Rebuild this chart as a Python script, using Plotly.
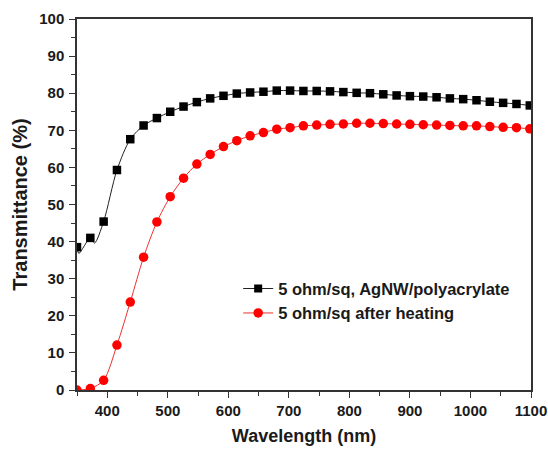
import plotly.graph_objects as go

wavelength = [350 + 22 * k for k in range(35)]
black_T = [38.5, 41.0, 45.4, 59.3, 67.6, 71.3, 73.3, 75.0, 76.4, 77.6, 78.6, 79.3, 79.9, 80.2, 80.4,
           80.7, 80.7, 80.6, 80.6, 80.5, 80.3, 80.1, 80.0, 79.7, 79.4, 79.2, 79.1, 78.9, 78.6, 78.4,
           78.1, 77.7, 77.4, 77.1, 76.7]
red_T = [0.0, 0.4, 2.6, 12.1, 23.7, 35.8, 45.3, 52.1, 57.1, 60.9, 63.5, 65.6, 67.2, 68.5, 69.4,
         70.3, 70.7, 71.2, 71.4, 71.6, 71.7, 71.9, 71.9, 71.8, 71.7, 71.6, 71.5, 71.4, 71.3, 71.2,
         71.2, 71.0, 70.8, 70.7, 70.4]
# extra points of the black curve (line only, no marker)
black_extra_x = [353, 379]
black_extra_y = [36.8, 39.6]

series_names = ["5 ohm/sq, AgNW/polyacrylate", "5 ohm/sq after heating"]

pts = [(x, y, 8.5) for x, y in zip(wavelength, black_T)] + \
      [(x, y, 0) for x, y in zip(black_extra_x, black_extra_y)]
pts.sort()
bx = [p[0] for p in pts]
by = [p[1] for p in pts]
bs = [p[2] for p in pts]

FONT = "Arial, 'Liberation Sans', Helvetica, sans-serif"

fig = go.Figure()
fig.add_trace(go.Scatter(
    x=bx, y=by, name=series_names[0], mode="lines+markers",
    line=dict(color="#222222", width=1, shape="spline", smoothing=0.8),
    marker=dict(symbol="square", size=bs, color="#000000", opacity=1, line=dict(width=0)),
))
fig.add_trace(go.Scatter(
    x=wavelength, y=red_T, name=series_names[1], mode="lines+markers",
    line=dict(color="#f03030", width=1, shape="spline", smoothing=0.8),
    marker=dict(symbol="circle", size=9.5, color="#ff0000", line=dict(width=0)),
))

axis_common = dict(
    showline=True, linecolor="#333333", linewidth=1.5, mirror=True,
    ticks="outside", ticklen=6, tickwidth=1.3, tickcolor="#333333",
    showgrid=False, zeroline=False, automargin=False,
    tickfont=dict(family=FONT, size=15, color="#1a1a1a", weight="bold"),
)

fig.update_xaxes(
    range=[350, 1100], tick0=400, dtick=100,
    minor=dict(ticks="outside", ticklen=4, tickwidth=1.2, tickcolor="#333333", dtick=50, tick0=350),
    title=dict(text="Wavelength (nm)", font=dict(family=FONT, size=18, color="#1a1a1a", weight="bold"), standoff=12),
    **axis_common,
)
fig.update_yaxes(
    range=[0, 100], tick0=0, dtick=10, ticklabelstandoff=2,
    minor=dict(ticks="outside", ticklen=4, tickwidth=1.2, tickcolor="#333333", dtick=5),
    title=dict(text="Transmittance (%)", font=dict(family=FONT, size=20, color="#1a1a1a", weight="bold"), standoff=6),
    **axis_common,
)

fig.update_layout(
    width=548, height=449,
    margin=dict(l=77, r=17, t=19, b=59),
    paper_bgcolor="white", plot_bgcolor="white",
    showlegend=True,
    legend=dict(
        x=0.355, y=0.32, xanchor="left", yanchor="top",
        bgcolor="rgba(0,0,0,0)", borderwidth=0,
        font=dict(family=FONT, size=16.5, color="#1a1a1a", weight="bold"),
        tracegroupgap=0,
    ),
)

# remove the default 8px page margin so the figure fills the window exactly
fig.write_html("out.html", config={"displayModeBar": False},
               post_script="document.body.style.margin='0';")
